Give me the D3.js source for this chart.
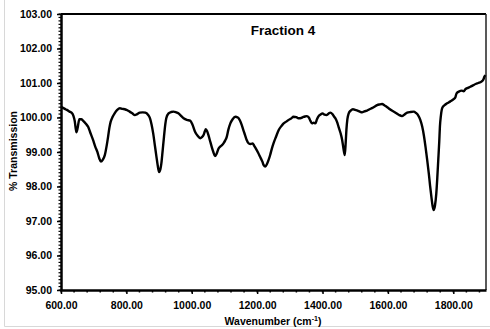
<!DOCTYPE html>
<html><head><meta charset="utf-8">
<script src="https://cdn.jsdelivr.net/npm/d3@7"></script>
<style>body{margin:0;background:#fff}svg{display:block;font-family:"Liberation Sans",Arial,sans-serif}</style>
</head><body><svg id="c" width="490" height="329"></svg>
<script>
const wavenumber = [600,606,612,618,626,632,638,642,647,651,656,662,668,676,683,690,698,705,711,717,722,728,734,740,744,748,752,758,764,772,780,788,795,803,810,818,826,833,841,850,858,866,872,877,882,887,892,896,900,904,907,911,915,919,922,929,937,944,952,959,967,975,985,995,1002,1010,1018,1026,1031,1036,1040,1043,1047,1051,1056,1061,1066,1071,1076,1082,1090,1097,1102,1107,1112,1118,1125,1133,1141,1147,1153,1158,1163,1168,1174,1180,1186,1191,1196,1203,1209,1216,1220,1225,1230,1235,1240,1245,1250,1258,1266,1274,1281,1289,1296,1304,1311,1320,1326,1332,1340,1346,1352,1358,1363,1368,1373,1378,1383,1388,1394,1400,1406,1412,1418,1424,1430,1435,1439,1444,1449,1455,1460,1464,1468,1471,1473,1476,1480,1486,1493,1500,1507,1514,1521,1528,1536,1544,1551,1560,1567,1575,1582,1590,1596,1602,1612,1623,1633,1643,1651,1659,1669,1679,1686,1692,1699,1705,1710,1715,1720,1725,1729,1733,1737,1740,1744,1748,1751,1754,1757,1759,1762,1766,1772,1781,1790,1801,1806,1810,1817,1825,1832,1837,1845,1852,1860,1868,1876,1886,1892,1895,1898];
const transmission = [100.31,100.28,100.25,100.22,100.17,100.14,100.05,99.90,99.57,99.70,99.95,99.95,99.90,99.82,99.73,99.55,99.35,99.15,99.01,98.82,98.72,98.78,98.91,99.2,99.44,99.70,99.88,100.02,100.12,100.22,100.27,100.25,100.24,100.21,100.17,100.12,100.07,100.10,100.14,100.15,100.14,100.08,99.98,99.80,99.54,99.2,98.86,98.6,98.42,98.5,98.67,99.05,99.44,99.80,99.98,100.12,100.16,100.17,100.15,100.12,100.05,99.98,99.93,99.91,99.80,99.59,99.47,99.40,99.43,99.49,99.60,99.66,99.60,99.49,99.32,99.15,99.00,98.88,98.95,99.10,99.18,99.25,99.33,99.44,99.65,99.83,99.95,100.02,100.00,99.92,99.78,99.63,99.49,99.35,99.25,99.23,99.25,99.18,99.10,98.98,98.86,98.72,98.62,98.58,98.65,98.77,98.92,99.10,99.25,99.45,99.64,99.75,99.83,99.88,99.93,99.97,100.02,100.01,99.98,99.98,100.01,100.03,100.04,100.00,99.90,99.83,99.85,99.83,99.95,100.04,100.09,100.12,100.08,100.07,100.11,100.14,100.10,100.03,99.98,99.88,99.73,99.55,99.35,99.10,98.91,99.30,99.64,99.95,100.12,100.20,100.24,100.22,100.20,100.17,100.15,100.18,100.20,100.24,100.27,100.32,100.36,100.38,100.39,100.35,100.31,100.27,100.20,100.14,100.08,100.04,100.09,100.14,100.16,100.17,100.13,100.07,99.93,99.73,99.48,99.15,98.78,98.38,98.02,97.70,97.42,97.32,97.45,97.80,98.25,98.77,99.30,99.73,100.05,100.27,100.35,100.41,100.46,100.53,100.58,100.70,100.75,100.78,100.76,100.82,100.86,100.89,100.93,100.97,101.00,101.04,101.10,101.18,101.23];
const xTicks = [600,800,1000,1200,1400,1600,1800];
const yTicks = [95,96,97,98,99,100,101,102,103];
const title = "Fraction 4";

const svg = d3.select("#c");
const L = 61, R = 486, T = 14, B = 290;
const x = d3.scaleLinear().domain([600,1900]).range([L,R]);
const y = d3.scaleLinear().domain([95,103]).range([B,T]);

// outer light border
svg.append("line").attr("x1",4.5).attr("x2",4.5).attr("y1",0).attr("y2",326.5).attr("stroke","#d8d8d8").attr("stroke-width",1);
svg.append("line").attr("x1",4.5).attr("x2",490).attr("y1",326.5).attr("y2",326.5).attr("stroke","#d8d8d8").attr("stroke-width",1);

// frame
svg.append("line").attr("x1",L).attr("x2",R).attr("y1",T).attr("y2",T).attr("stroke","#000").attr("stroke-width",2);
svg.append("line").attr("x1",R).attr("x2",R).attr("y1",T).attr("y2",B).attr("stroke","#222").attr("stroke-width",1.5);

// minor ticks
const g = svg.append("g");
const xMinor = d3.range(600,1901,40);
g.selectAll(".xm").data(xMinor).join("line").attr("x1",d=>x(d)).attr("x2",d=>x(d)).attr("y1",B).attr("y2",B+2.5).attr("stroke","#000").attr("stroke-width",1.5);
const yMinor = d3.range(0,81).map(i=>95+i*0.1);
g.selectAll(".ym").data(yMinor).join("line").attr("x1",L-2.5).attr("x2",L).attr("y1",d=>y(d)).attr("y2",d=>y(d)).attr("stroke","#000").attr("stroke-width",1.2);

// axes
const xAxis = d3.axisBottom(x).tickValues(xTicks).tickFormat(d3.format(".2f")).tickSizeInner(4).tickSizeOuter(0).tickPadding(5);
const yAxis = d3.axisLeft(y).tickValues(yTicks).tickFormat(d3.format(".2f")).tickSizeInner(4).tickSizeOuter(0).tickPadding(5);
const gx = svg.append("g").attr("transform",`translate(0,${B})`).call(xAxis);
const gy = svg.append("g").attr("transform",`translate(${L},0)`).call(yAxis);
[gx,gy].forEach(a=>{
  a.select(".domain").attr("stroke","#000").attr("stroke-width",2.5);
  a.selectAll(".tick line").attr("stroke","#000").attr("stroke-width",1.5);
  a.selectAll("text").attr("font-family","Liberation Sans, Arial, sans-serif").attr("font-size","10.5px").attr("font-weight","bold").attr("fill","#000");
});
gx.selectAll("text").attr("dy","0.95em");

// line
const line = d3.line().x((d,i)=>x(wavenumber[i])).y(d=>y(d)).curve(d3.curveMonotoneX);
svg.append("path").datum(transmission).attr("d",line).attr("fill","none").attr("stroke","#000").attr("stroke-width",2.4).attr("stroke-linejoin","round");

// title
svg.append("text").attr("x",283).attr("y",35).attr("text-anchor","middle").attr("font-size","13.5px").attr("font-weight","bold").text(title);

// axis titles
const xt = svg.append("text").attr("x",273).attr("y",325).attr("text-anchor","middle").attr("font-size","10.5px").attr("font-weight","bold");
xt.append("tspan").text("Wavenumber (cm");
xt.append("tspan").attr("font-size","7px").attr("dy","-4").text("-1");
xt.append("tspan").attr("dy","4").text(")");
svg.append("text").attr("transform","translate(17,151) rotate(-90)").attr("text-anchor","middle").attr("font-size","10.5px").attr("font-weight","bold").text("% Transmission");
</script></body></html>
